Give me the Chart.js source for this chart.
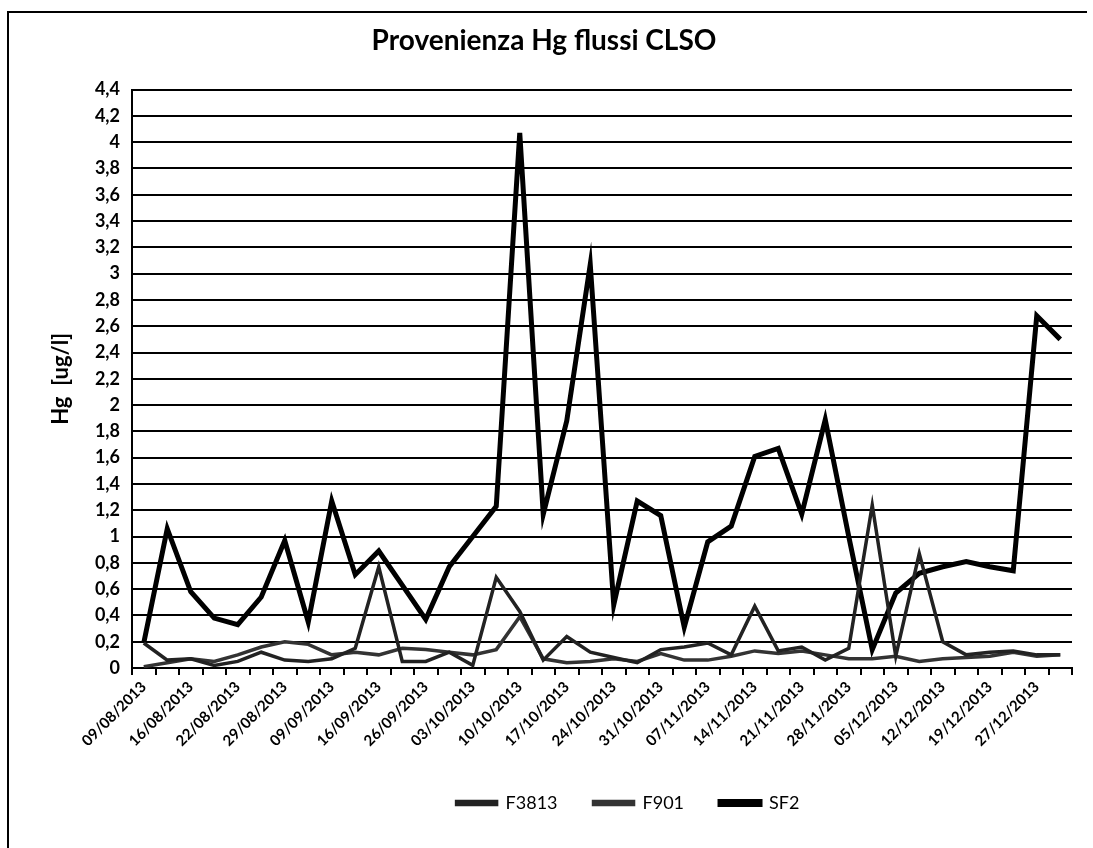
<!DOCTYPE html>
<html>
<head>
<meta charset="utf-8">
<script src="https://cdn.jsdelivr.net/npm/chart.js@4.4.0/dist/chart.umd.min.js"></script>
<style>
  html, body { margin: 0; padding: 0; background: #fff; }
  #wrap { position: relative; width: 1093px; height: 848px; overflow: hidden; }
  #frame { position: absolute; left: 7px; top: 11px; width: 1078px; height: 900px;
           border-top: 2px solid #000; border-left: 2px solid #000; pointer-events: none; }
  canvas { position: absolute; left: 0; top: 0; }
</style>
</head>
<body>
<div id="wrap">
  <canvas id="c" width="1093" height="848"></canvas>
  <div id="frame"></div>
</div>
<script>
const categories = [
  "09/08/2013","13/08/2013","16/08/2013","19/08/2013","22/08/2013","26/08/2013",
  "29/08/2013","02/09/2013","09/09/2013","12/09/2013","16/09/2013","19/09/2013",
  "26/09/2013","30/09/2013","03/10/2013","07/10/2013","10/10/2013","14/10/2013",
  "17/10/2013","21/10/2013","24/10/2013","28/10/2013","31/10/2013","04/11/2013",
  "07/11/2013","11/11/2013","14/11/2013","18/11/2013","21/11/2013","25/11/2013",
  "28/11/2013","02/12/2013","05/12/2013","09/12/2013","12/12/2013","16/12/2013",
  "19/12/2013","23/12/2013","27/12/2013","30/12/2013"
];

const f3813 = [
  0.19, 0.06, 0.07, 0.02, 0.05, 0.12, 0.06, 0.05, 0.07, 0.15,
  0.77, 0.05, 0.05, 0.12, 0.02, 0.69, 0.43, 0.06, 0.24, 0.12,
  0.08, 0.04, 0.14, 0.16, 0.19, 0.10, 0.47, 0.13, 0.16, 0.06,
  0.15, 1.24, 0.09, 0.87, 0.20, 0.10, 0.12, 0.13, 0.10, 0.10
];

const f901 = [
  0.01, 0.04, 0.07, 0.05, 0.10, 0.16, 0.20, 0.18, 0.10, 0.12,
  0.10, 0.15, 0.14, 0.12, 0.10, 0.14, 0.39, 0.07, 0.04, 0.05,
  0.07, 0.05, 0.11, 0.06, 0.06, 0.09, 0.13, 0.11, 0.13, 0.10,
  0.07, 0.07, 0.09, 0.05, 0.07, 0.08, 0.09, 0.12, 0.09, 0.10
];

const sf2 = [
  0.19, 1.06, 0.58, 0.38, 0.33, 0.54, 0.97, 0.35, 1.27, 0.71,
  0.89, 0.63, 0.37, 0.77, 1.00, 1.23, 4.07, 1.17, 1.88, 3.07,
  0.48, 1.27, 1.16, 0.31, 0.96, 1.08, 1.61, 1.67, 1.17, 1.89,
  1.00, 0.14, 0.57, 0.72, 0.77, 0.81, 0.77, 0.74, 2.68, 2.50
];

const seriesNames = ["F3813", "F901", "SF2"];
const titleText = "Provenienza Hg flussi CLSO";
const yTitle = "Hg  [ug/l]";

function fmt(v) {
  return String(Number(v.toFixed(1))).replace('.', ',');
}

const legendShift = {
  id: 'legendShift',
  afterLayout(chart) {
    const l = chart.legend;
    if (l) { l.left += 26; l.right += 26; }
  }
};

new Chart(document.getElementById('c'), {
  type: 'line',
  data: {
    labels: categories,
    datasets: [
      { label: seriesNames[0], data: f3813, borderColor: '#222', backgroundColor: '#222', borderWidth: 3.5 },
      { label: seriesNames[1], data: f901, borderColor: '#333', backgroundColor: '#333', borderWidth: 3.5 },
      { label: seriesNames[2], data: sf2, borderColor: '#000', backgroundColor: '#000', borderWidth: 5 }
    ]
  },
  plugins: [legendShift],
  options: {
    responsive: false,
    animation: false,
    devicePixelRatio: 1,
    elements: { point: { radius: 0 }, line: { tension: 0 } },
    layout: { padding: { left: 16, right: 21, top: 10, bottom: 26 } },
    plugins: {
      title: {
        display: true, text: titleText, color: '#000',
        font: { family: 'Lato', size: 28, weight: 'bold' },
        padding: { top: 14, bottom: 32 }
      },
      legend: {
        position: 'bottom',
        fullSize: false,
        labels: {
          color: '#000', boxWidth: 40, boxHeight: 3, padding: 36,
          font: { family: 'Lato', size: 18 }
        }
      },
      tooltip: { enabled: false }
    },
    scales: {
      x: {
        offset: true,
        afterFit: (s) => { s.height = 90; },
        grid: { display: true, drawOnChartArea: false, drawTicks: true, tickLength: 7,
                offset: true, color: '#000', lineWidth: 2 },
        border: { display: true, color: '#000', width: 2 },
        ticks: {
          autoSkip: false, minRotation: 45, maxRotation: 45, color: '#000',
          font: { family: 'Lato', size: 15, weight: 'bold' },
          callback: (v, i) => (i % 2 === 0 ? categories[i] : '')
        }
      },
      y: {
        min: 0, max: 4.4,
        afterFit: (s) => { s.width = 116; },
        grid: { color: '#000', lineWidth: 2, drawTicks: false },
        border: { display: true, color: '#000', width: 2 },
        ticks: {
          stepSize: 0.2, padding: 12, color: '#000',
          font: { family: 'Lato', size: 18, weight: 'bold' },
          callback: (v) => fmt(v)
        },
        title: {
          display: true, text: yTitle, color: '#000',
          font: { family: 'Lato', size: 22, weight: 'bold' },
          padding: { top: 32, bottom: 0 }
        }
      }
    }
  }
});
</script>
</body>
</html>
